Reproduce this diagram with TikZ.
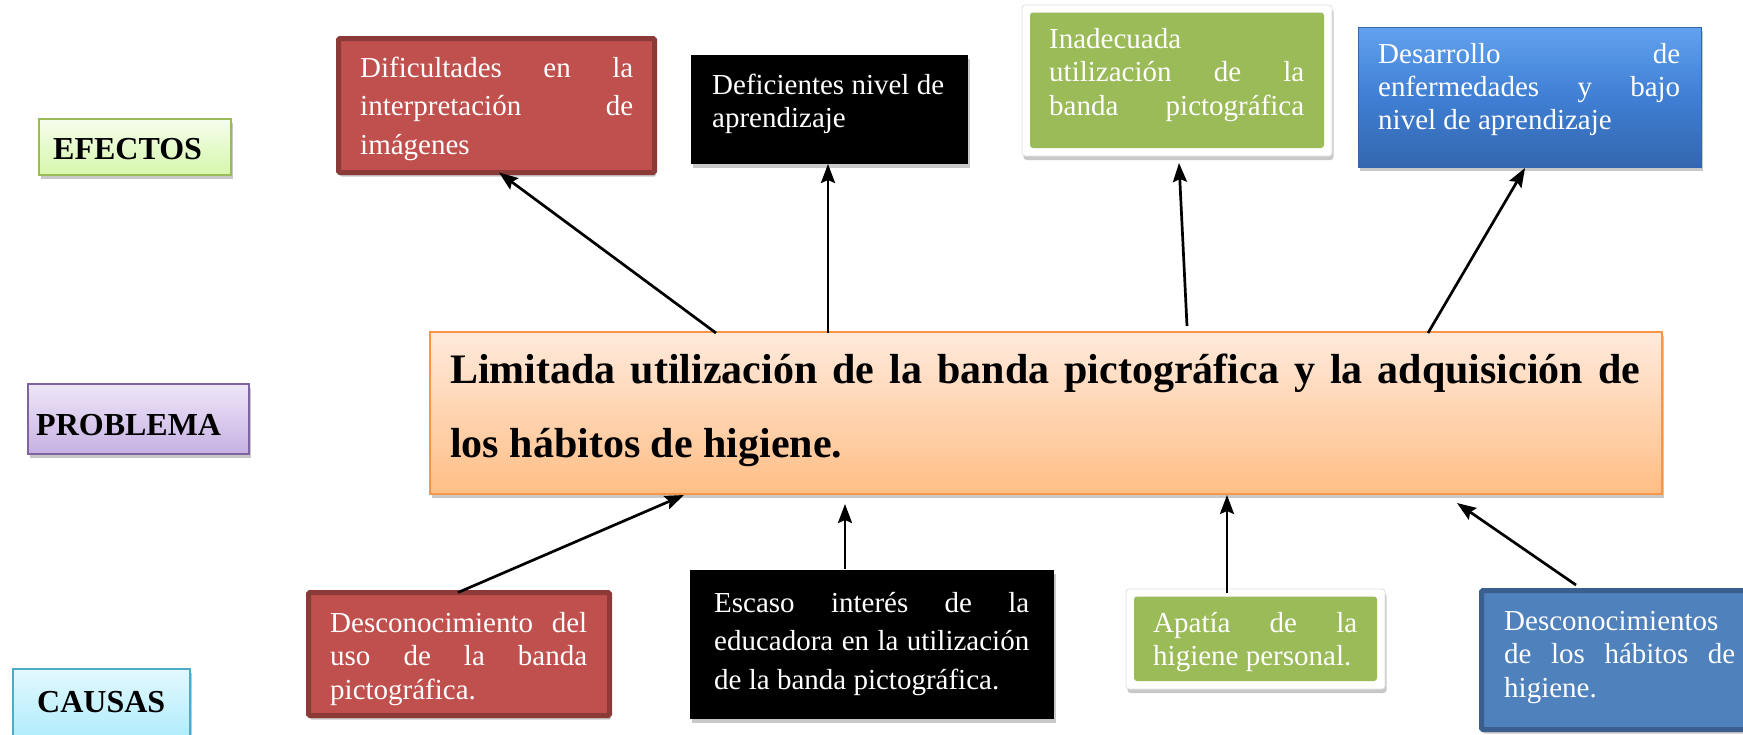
\documentclass[tikz,border=0pt]{standalone}
\usepackage{fontspec}
\setmainfont{Liberation Serif}
\usetikzlibrary{arrows.meta,calc,shadows}
\definecolor{cRed}{HTML}{C0504D}
\definecolor{cRedD}{HTML}{8C3A38}
\definecolor{cGreen}{HTML}{9BBB59}
\definecolor{cBlue}{HTML}{4F81BD}
\definecolor{cBlueD}{HTML}{3A5F8E}
\definecolor{cBlueT}{HTML}{62A2EE}
\definecolor{cBlueM}{HTML}{3F7FD4}
\definecolor{cBlueB}{HTML}{3466AE}
\definecolor{cOrange}{HTML}{F79646}
\definecolor{cOrT}{HTML}{FFEADC}
\definecolor{cOrB}{HTML}{FFBE86}
\definecolor{cLgT}{HTML}{F6FDEC}
\definecolor{cLgB}{HTML}{D6F7AC}
\definecolor{cPuT}{HTML}{EFE6F8}
\definecolor{cPuB}{HTML}{C6B1E3}
\definecolor{cPu}{HTML}{8064A2}
\definecolor{cCyT}{HTML}{E2F9FF}
\definecolor{cCyB}{HTML}{A2E8FA}
\definecolor{cCy}{HTML}{4BACC6}
\newcommand\jl[2]{\hbox to #1pt{#2}}
\begin{document}
\begin{tikzpicture}[x=1pt,y=-1pt,
  box/.style={rectangle, anchor=north west, inner sep=0pt, outer sep=0pt},
  shad/.style={drop shadow={shadow xshift=1.5pt, shadow yshift=-4pt, opacity=0.3, fill=black!70}},
  redbox/.style={box, shad, fill=cRed, draw=cRedD, line width=5pt, rounded corners=1.5pt},
  blackbox/.style={box, shad, fill=black},
  greenbox/.style={box, shad, fill=white, draw=black!12, line width=0.8pt, rounded corners=3pt,
    path picture={\fill[cGreen] ([shift={(8pt,-7.5pt)}]path picture bounding box.north west) rectangle ([shift={(-8pt,8pt)}]path picture bounding box.south east);}},
  blueeff/.style={box, shad, top color=cBlueT, bottom color=cBlueB, middle color=cBlueM, draw=cBlueB, line width=1pt},
  bluecause/.style={box, shad, fill=cBlue, draw=cBlueD, line width=5pt, rounded corners=1.5pt},
  probbox/.style={box, shad, top color=cOrT, bottom color=cOrB, draw=cOrange, line width=2pt},
  labbox/.style={box, shad, line width=2pt},
  txt/.style={anchor=base west, inner sep=0pt, text=white, font=\fontsize{29}{33.5}\selectfont},
  labtxt/.style={anchor=base west, inner sep=0pt, text=black, font=\fontsize{32}{36}\selectfont\bfseries},
  arr/.style={line width=2.7pt, -{Stealth[length=19pt,width=14pt,inset=3pt]}}
]
\fill[white] (0,0) rectangle (1743,734);
\useasboundingbox (0,0) rectangle (1743,734);

% side labels
\node[labbox, top color=cLgT, bottom color=cLgB, draw=cGreen, minimum width=192pt, minimum height=56pt] (lab1) at (39,119) {};
\node[labtxt] (lab1t) at (53,159) {EFECTOS};
\node[labbox, top color=cPuT, bottom color=cPuB, draw=cPu, minimum width=221pt, minimum height=70pt] (lab2) at (28,384) {};
\node[labtxt] (lab2t) at (36,435) {PROBLEMA};
\node[labbox, top color=cCyT, bottom color=cCyB, draw=cCy, minimum width=177pt, minimum height=90pt] (lab3) at (13,669) {};
\node[labtxt] (lab3t) at (37,712) {CAUSAS};

% problem
\node[probbox, minimum width=1232pt, minimum height=162pt] (prob) at (430,332) {};
\node[labtxt, font=\fontsize{42}{74}\selectfont\bfseries] (probt) at (450,383)
  {\vtop{\jl{1190}{Limitada utilización de la banda pictográfica y la adquisición de}\hbox{los hábitos de higiene.}}};

% effects
\node[redbox, minimum width=316pt, minimum height=134pt] (e1) at (338.5,38.5) {};
\node[txt, font=\fontsize{29}{38.5}\selectfont] (e1t) at (360,77)
  {\vtop{\jl{273}{Dificultades en la}\jl{273}{interpretación de}\hbox{imágenes}}};

\node[blackbox, minimum width=277pt, minimum height=109pt] (e2) at (691,55) {};
\node[txt, font=\fontsize{29}{33}\selectfont] (e2t) at (712,94)
  {\vtop{\hbox{Deficientes nivel de}\hbox{aprendizaje}}};

\node[greenbox, minimum width=310pt, minimum height=151pt] (e3) at (1022,5) {};
\node[txt] (e3t) at (1049,48)
  {\vtop{\hbox{Inadecuada}\jl{255}{utilización de la}\jl{255}{banda pictográfica}}};

\node[blueeff, minimum width=343pt, minimum height=140pt] (e4) at (1358,27) {};
\node[txt, font=\fontsize{29}{33}\selectfont] (e4t) at (1378,63)
  {\vtop{\jl{302}{Desarrollo de}\jl{302}{enfermedades y bajo}\hbox{nivel de aprendizaje}}};

% causes
\node[redbox, minimum width=301pt, minimum height=123pt] (c1) at (308.5,592.5) {};
\node[txt] (c1t) at (330,632)
  {\vtop{\jl{257}{Desconocimiento del}\jl{257}{uso de la banda}\hbox{pictográfica.}}};

\node[blackbox, minimum width=364pt, minimum height=149pt] (c2) at (690,570) {};
\node[txt, font=\fontsize{29}{38.5}\selectfont] (c2t) at (714,612)
  {\vtop{\jl{315}{Escaso interés de la}\jl{315}{educadora en la utilización}\hbox{de la banda pictográfica.}}};

\node[greenbox, minimum width=259pt, minimum height=100pt] (c3) at (1126,589) {};
\node[txt, font=\fontsize{29}{33}\selectfont] (c3t) at (1153,632)
  {\vtop{\jl{204}{Apatía de la}\hbox{higiene personal.}}};

\node[bluecause, minimum width=330pt, minimum height=139pt] (c4) at (1481.5,590.5) {};
\node[txt] (c4t) at (1504,630)
  {\vtop{\hbox{Desconocimientos}\jl{231}{de los hábitos de}\hbox{higiene.}}};

% effect arrows
\draw[arr] ($(prob.north west)+(286,1)$) -- ($(e1.south west)+(160.5,0)$);
\draw[arr] ($(prob.north west)+(398,1)$) -- ($(e2.south west)+(137,0)$);
\draw[arr] ($(prob.north west)+(757,-6)$) -- ($(e3.south west)+(157,7)$);
\draw[arr] ($(prob.north west)+(998,1)$) -- ($(e4.south west)+(167,1)$);

% cause arrows
\draw[arr] ($(c1.north west)+(149.5,0)$) -- ($(prob.south west)+(254,1)$);
\draw[arr] ($(c2.north west)+(155,-1)$) -- ($(prob.south west)+(415,10)$);
\draw[arr] ($(c3.north west)+(101,4)$) -- ($(prob.south west)+(797,1)$);
\draw[arr] ($(c4.north west)+(94.5,-5.5)$) -- ($(prob.south west)+(1027,9)$);
\end{tikzpicture}
\end{document}
